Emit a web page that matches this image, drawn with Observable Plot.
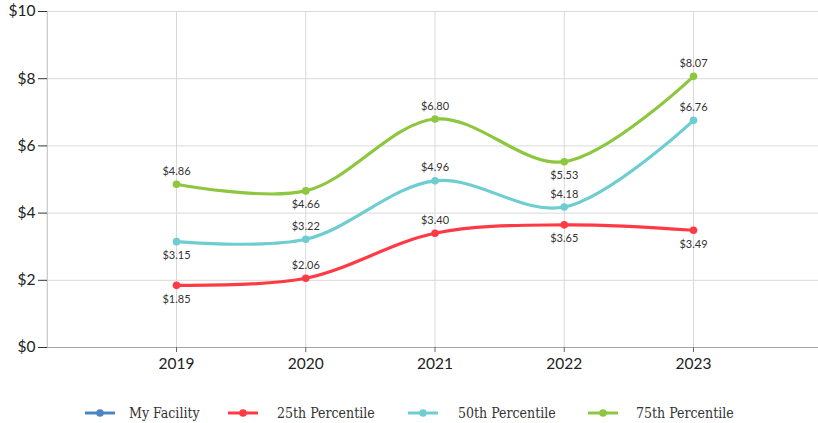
<!DOCTYPE html>
<html><head><meta charset="utf-8">
<script src="https://cdn.jsdelivr.net/npm/d3@7"></script>
<script src="https://cdn.jsdelivr.net/npm/@observablehq/plot@0.6"></script>
<style>
body{margin:0;background:#fff;overflow:hidden;}
#legend{position:relative;height:38px;font-family:"DejaVu Serif Condensed","DejaVu Serif",serif;font-size:14px;color:#333;}
.sw{position:absolute;top:23px;}
.lab{position:absolute;top:19px;line-height:18px;white-space:nowrap;}
</style></head>
<body>
<div id="chart"></div>
<div id="legend"></div>
<script>
const years = [2019, 2020, 2021, 2022, 2023];
const myFacility = [];
const p25 = [1.85, 2.06, 3.40, 3.65, 3.49];
const p50 = [3.15, 3.22, 4.96, 4.18, 6.76];
const p75 = [4.86, 4.66, 6.80, 5.53, 8.07];
const p25Place = ["below","above","above","below","below"];
const p50Place = ["below","above","above","above","above"];
const p75Place = ["above","below","above","below","above"];
const yTicks = [0, 2, 4, 6, 8, 10];
const seriesNames = ["My Facility","25th Percentile","50th Percentile","75th Percentile"];
const colors = {"My Facility":"#4a86c5","25th Percentile":"#fe3b45","50th Percentile":"#6dcdd0","75th Percentile":"#8dc63f"};

const rows = [];
[[seriesNames[1],p25,p25Place],[seriesNames[2],p50,p50Place],[seriesNames[3],p75,p75Place]].forEach(([name,vals,place])=>{
  vals.forEach((v,i)=>rows.push({series:name, year:years[i], value:v, place:place[i]}));
});

const font = "Lato, 'Open Sans', sans-serif";
const chart = Plot.plot({
  width: 818, height: 385,
  marginTop: 11, marginBottom: 38, marginLeft: 47, marginRight: 0,
  style: {fontFamily: font, background: "#fff", display: "block"},
  x: {domain: [2018, 2024], range: [46.75, 822.25]},
  y: {domain: [0, 10]},
  marks: [
    Plot.ruleY(yTicks.slice(1), {stroke: "#d9d9d9", strokeWidth: 1, strokeOpacity: 1}),
    Plot.ruleX(years, {stroke: "#d9d9d9", strokeWidth: 1, strokeOpacity: 1}),
    Plot.ruleX([2018], {stroke: "#bdbdbd", strokeWidth: 1}),
    Plot.ruleY([0], {stroke: "#a6a6a6", strokeWidth: 1}),
    Plot.axisY({ticks: yTicks, tickFormat: d => "$" + d, tickSize: 9, tickPadding: 3, fontSize: 15.5, stroke: "#333", color: "#222", label: null}),
    Plot.axisX({ticks: years, tickFormat: d => String(d), tickSize: 5, tickPadding: 5, fontSize: 15.5, stroke: "#666", color: "#222", label: null}),
    Plot.line(rows, {x: "year", y: "value", z: "series", stroke: d => colors[d.series], strokeWidth: 3.2, curve: "catmull-rom"}),
    Plot.dot(rows, {x: "year", y: "value", fill: d => colors[d.series], r: 3.8}),
    Plot.text(rows.filter(d => d.place === "above"), {x: "year", y: "value", text: d => "$" + d.value.toFixed(2), dy: -13, fontSize: 11, fill: "#333"}),
    Plot.text(rows.filter(d => d.place === "below"), {x: "year", y: "value", text: d => "$" + d.value.toFixed(2), dy: 14, fontSize: 11, fill: "#333"})
  ]
});
document.getElementById("chart").appendChild(chart);

const swatchX = [85, 228, 408, 588];
const labelX = [129, 277, 458, 636];
const legend = document.getElementById("legend");
seriesNames.forEach((name, i) => {
  const sw = document.createElement("div");
  sw.className = "sw";
  sw.style.left = swatchX[i] + "px";
  sw.innerHTML = `<svg width="30" height="10" style="display:block"><line x1="0" y1="5" x2="30" y2="5" stroke="${colors[name]}" stroke-width="3"/><circle cx="15" cy="5" r="3.8" fill="${colors[name]}"/></svg>`;
  legend.appendChild(sw);
  const lab = document.createElement("div");
  lab.className = "lab";
  lab.style.left = labelX[i] + "px";
  lab.textContent = name;
  legend.appendChild(lab);
});
</script>
</body></html>
